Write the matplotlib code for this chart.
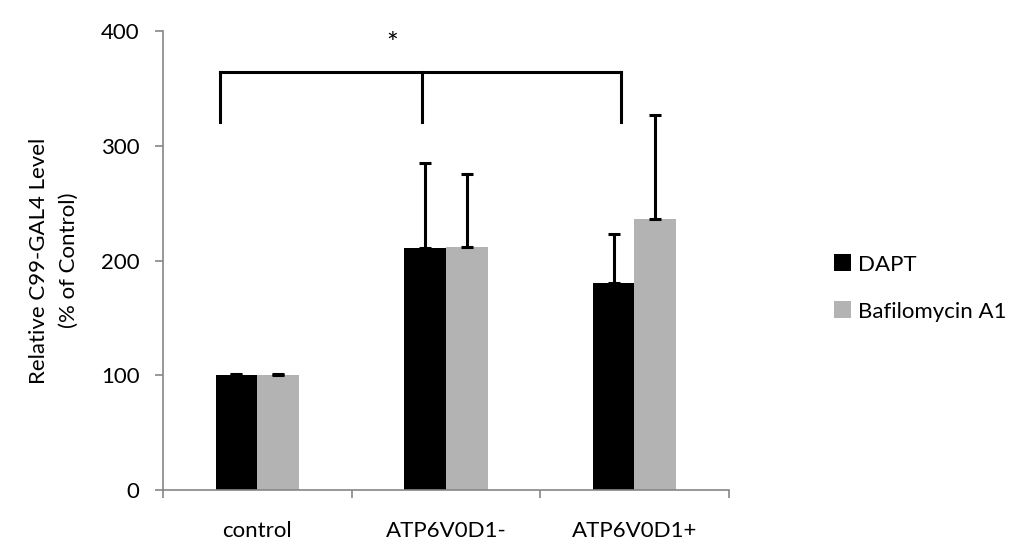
import numpy as np
import matplotlib as mpl
mpl.use('Agg')
import matplotlib.pyplot as plt

plt.rcParams['font.family'] = ['Lato', 'DejaVu Sans']

categories = ["control", "ATP6V0D1-", "ATP6V0D1+"]
series = ["DAPT", "Bafilomycin A1"]
dapt = [100, 211, 180]
dapt_err = [1, 74, 43]
bafi = [100, 212, 236]
bafi_err = [1, 63, 91]
yticks = [0, 100, 200, 300, 400]

fig = plt.figure(figsize=(10.25, 5.51), dpi=100)
ax = fig.add_axes([0.159, 0.1107, 0.552, 0.833])

x = np.arange(len(categories))
w = 0.221
ekw = dict(ecolor='black', elinewidth=2.2, capsize=4.5, capthick=2.2)
ax.bar(x - w / 2, dapt, w, color='black', label=series[0],
       yerr=[np.zeros(3), dapt_err], error_kw=ekw)
ax.bar(x + w / 2, bafi, w, color='#b3b3b3', label=series[1],
       yerr=[np.zeros(3), bafi_err], error_kw=ekw)

ax.set_xlim(-0.5, 2.5)
ax.set_ylim(0, 400)
ax.set_yticks(yticks)
ax.set_xticks(x)
ax.set_xticklabels(categories)
ax.set_xticks([-0.5, 0.5, 1.5, 2.5], minor=True)
ax.tick_params(axis='x', which='major', length=0, pad=22, labelsize=16)
ax.tick_params(axis='x', which='minor', length=6, color='#868686', width=1.2)
ax.tick_params(axis='y', length=6, color='#868686', width=1.2, pad=11, labelsize=16)
for s in ['top', 'right']:
    ax.spines[s].set_visible(False)
for s in ['left', 'bottom']:
    ax.spines[s].set_color('#868686')
    ax.spines[s].set_linewidth(1.2)

ax.set_ylabel("Relative C99-GAL4 Level\n(% of Control)", fontsize=16,
              labelpad=16, linespacing=1.6)

# significance bracket
bx = [-0.198, 0.874, 1.931]
ax.plot([bx[0], bx[2]], [364.5, 364.5], color='black', lw=2.2, clip_on=False)
for b in bx:
    ax.plot([b, b], [321, 364.5], color='black', lw=2.2, clip_on=False)
ax.text(0.713, 388, "*", ha='center', va='center', fontsize=20)

ax.legend(loc='center left', bbox_to_anchor=(1.15, 0.44), frameon=False,
          fontsize=16, handlelength=0.8, handleheight=0.8, labelspacing=1.2,
          handletextpad=0.3)

fig.savefig("out.png", dpi=100)
